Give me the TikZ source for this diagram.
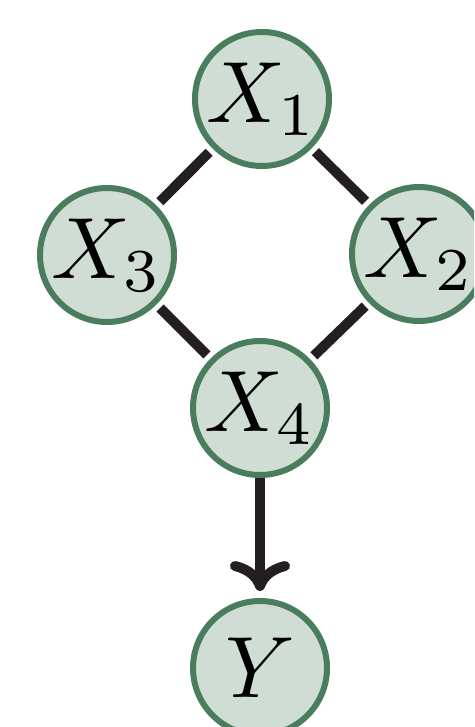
\documentclass[tikz,border=0pt]{standalone}
\usepackage{graphicx}
\usetikzlibrary{arrows.meta}
\definecolor{nodefill}{HTML}{D0DDD4}
\definecolor{nodeedge}{HTML}{4A7C5E}
\definecolor{ink}{HTML}{231F20}
\newcommand{\bigvar}[1]{\scalebox{8.7}{$#1$}}
\tikzset{
  var/.style={circle, draw=nodeedge, fill=nodefill, line width=6pt,
    minimum size=134pt, inner sep=0pt},
  link/.style={draw=ink, line width=10pt, shorten <=5pt, shorten >=5pt},
  cause/.style={link, shorten <=0pt, shorten >=7pt,
    -{Computer Modern Rightarrow[length=30pt, width=60pt, line cap=round]}}
}
\begin{document}
\begin{tikzpicture}[x=1pt, y=-1pt]
  \useasboundingbox (0,0) rectangle (474,727);
  \begin{scope}
    \clip (0,0) rectangle (474,727);
    \node[var] (x1) at (262,99)  {\bigvar{X_1}};
    \node[var] (x3) at (107,255) {\bigvar{X_3}};
    \node[var] (x2) at (419,254) {\bigvar{X_2}};
    \node[var] (x4) at (260,408) {\bigvar{X_4}};
    \node[var] (y)  at (260,668) {\bigvar{Y}};
    \draw[link] (x1) -- (x3);
    \draw[link] (x1) -- (x2);
    \draw[link] (x3) -- (x4);
    \draw[link] (x2) -- (x4);
    \draw[cause] (x4) -- (y);
  \end{scope}
\end{tikzpicture}
\end{document}
